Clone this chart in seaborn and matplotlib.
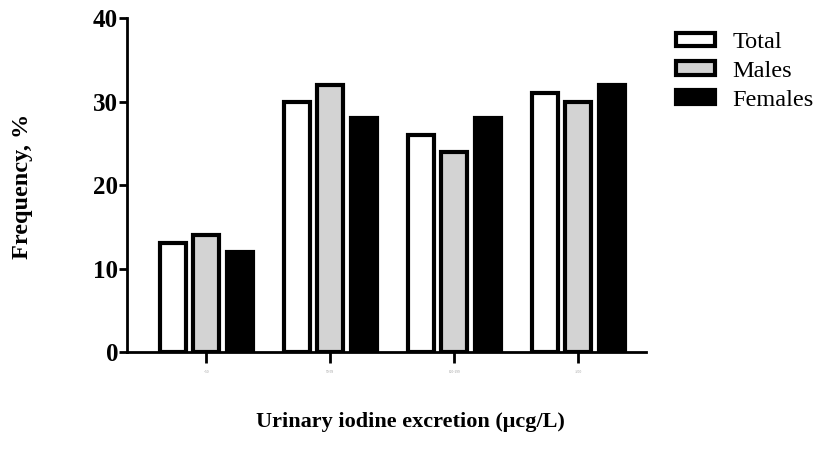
import pandas as pd
import numpy as np
import matplotlib.pyplot as plt
import seaborn as sns

# urinary iodine excretion groups (labels are unreadable in the source, kept tiny)
groups = ["<50", "50-99", "100-199", ">200"]
total = [13, 30, 26, 31]
males = [14, 32, 24, 30]
females = [12, 28, 28, 32]

df = pd.DataFrame({
	"group": groups * 3,
	"sex": ["Total"] * 4 + ["Males"] * 4 + ["Females"] * 4,
	"freq": total + males + females,
})

sns.set_style("white")
plt.rcParams['font.family'] = ['Liberation Serif', 'DejaVu Serif']
plt.rcParams['text.color'] = 'black'
plt.rcParams['xtick.color'] = 'black'
plt.rcParams['ytick.color'] = 'black'

fig = plt.figure(figsize=(8.15, 4.65), dpi=100)
ax = fig.add_axes([0.156, 0.243, 0.637, 0.718])

pal = {"Total": "white", "Males": "#d3d3d3", "Females": "black"}
sns.barplot(data=df, x="group", y="freq", hue="sex", palette=pal,
	hue_order=["Total", "Males", "Females"], width=0.81, gap=0.22,
	edgecolor="black", linewidth=3, ax=ax, legend=False)

ax.set_xlim(-0.64, 3.55)
ax.set_ylim(0, 40)
ax.set_yticks([0, 10, 20, 30, 40])
ax.set_yticklabels(["0", "10", "20", "30", "40"], fontsize=18, fontweight="bold")
ax.set_xticks(range(4))
ax.set_xticklabels(groups, fontsize=2.5, color="#999999")
ax.tick_params(axis="both", direction="out", length=7, width=2, color="black",
	bottom=True, left=True)
ax.tick_params(axis="x", length=8, pad=5)
ax.tick_params(axis="y", length=6, pad=0.5, labelcolor="black")
for s in ["top", "right"]:
	ax.spines[s].set_visible(False)
for s in ["left", "bottom"]:
	ax.spines[s].set_linewidth(2)
	ax.spines[s].set_color("black")
ax.set_xlabel("")
ax.set_ylabel("")

fig.text(0.028, 0.60, "Frequency, %", rotation=90, ha="center", va="center",
	fontsize=17.5, fontweight="bold")
fig.text(0.504, 0.092, "Urinary iodine excretion (\u03bccg/L)", ha="center", va="center",
	fontsize=16, fontweight="bold")

handles = [plt.Rectangle((0, 0), 1, 1, facecolor=pal[k], edgecolor="black", linewidth=3)
	for k in ["Total", "Males", "Females"]]
ax.legend(handles, ["Total", "Males", "Females"], loc="upper left",
	bbox_to_anchor=(0.829, 0.931), bbox_transform=fig.transFigure,
	frameon=False, fontsize=17.5, handlelength=1.6, handleheight=0.5,
	labelspacing=0.32, handletextpad=0.74, borderpad=0, borderaxespad=0)

fig.savefig("out.png", dpi=100)
